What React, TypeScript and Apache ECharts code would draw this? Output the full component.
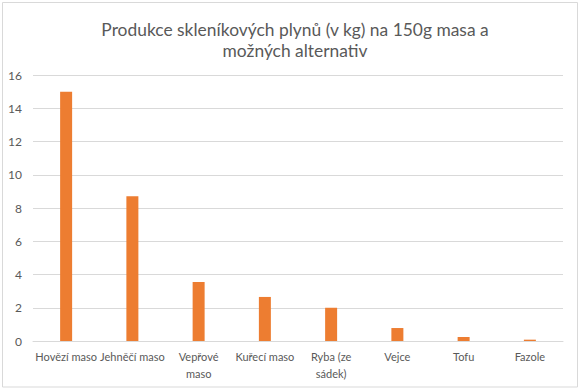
import React, { useEffect, useRef } from "react";
import * as echarts from "echarts";

const categories = [
  "Hovězí maso",
  "Jehněčí maso",
  "Vepřové maso",
  "Kuřecí maso",
  "Ryba (ze sádek)",
  "Vejce",
  "Tofu",
  "Fazole",
];
const categoryLabels = [
  "Hovězí maso",
  "Jehněčí maso",
  "Vepřové\nmaso",
  "Kuřecí maso",
  "Ryba (ze\nsádek)",
  "Vejce",
  "Tofu",
  "Fazole",
];
const values = [15, 8.7, 3.55, 2.65, 2.0, 0.78, 0.24, 0.08];
const titleText = "Produkce skleníkových plynů (v kg) na 150g masa a\nmožných alternativ";

export default function App() {
  const ref = useRef<HTMLDivElement>(null);
  useEffect(() => {
    if (!ref.current) return;
    const chart = echarts.init(ref.current, null, { renderer: "svg" });
    const font = "Lato, 'Open Sans', sans-serif";
    chart.setOption({
      animation: false,
      backgroundColor: "#ffffff",
      title: {
        text: titleText,
        left: 290,
        top: 14,
        textAlign: "center",
        textStyle: {
          fontFamily: font,
          fontSize: 17.4,
          fontWeight: "normal",
          color: "#595959",
          lineHeight: 21,
        },
      },
      graphic: [
        {
          type: "rect",
          shape: { x: 2.5, y: 2.5, width: 575, height: 384.5 },
          style: { fill: "none", stroke: "#d9d9d9", lineWidth: 1 },
          silent: true,
        },
      ],
      grid: { left: 33, right: 20, top: 75, bottom: 51, containLabel: false },
      xAxis: {
        type: "category",
        data: categories,
        axisTick: { show: false },
        axisLine: { lineStyle: { color: "#d9d9d9", width: 1 } },
        axisLabel: {
          interval: 0,
          fontFamily: font,
          fontSize: 11,
          color: "#595959",
          lineHeight: 17,
          margin: 7,
          formatter: (v: string) => categoryLabels[categories.indexOf(v)] ?? v,
        },
      },
      yAxis: {
        type: "value",
        min: 0,
        max: 16,
        interval: 2,
        axisLine: { show: false },
        axisTick: { show: false },
        splitLine: { lineStyle: { color: "#d9d9d9", width: 1 } },
        axisLabel: {
          fontFamily: font,
          fontSize: 12,
          color: "#595959",
          margin: 11,
        },
      },
      series: [
        {
          type: "bar",
          data: values,
          barWidth: 12,
          itemStyle: { color: "#ed7d31" },
        },
      ],
    });
    return () => chart.dispose();
  }, []);
  return (
    <div
      ref={ref}
      style={{ position: "absolute", left: 0, top: 0, width: 583, height: 392 }}
    />
  );
}
